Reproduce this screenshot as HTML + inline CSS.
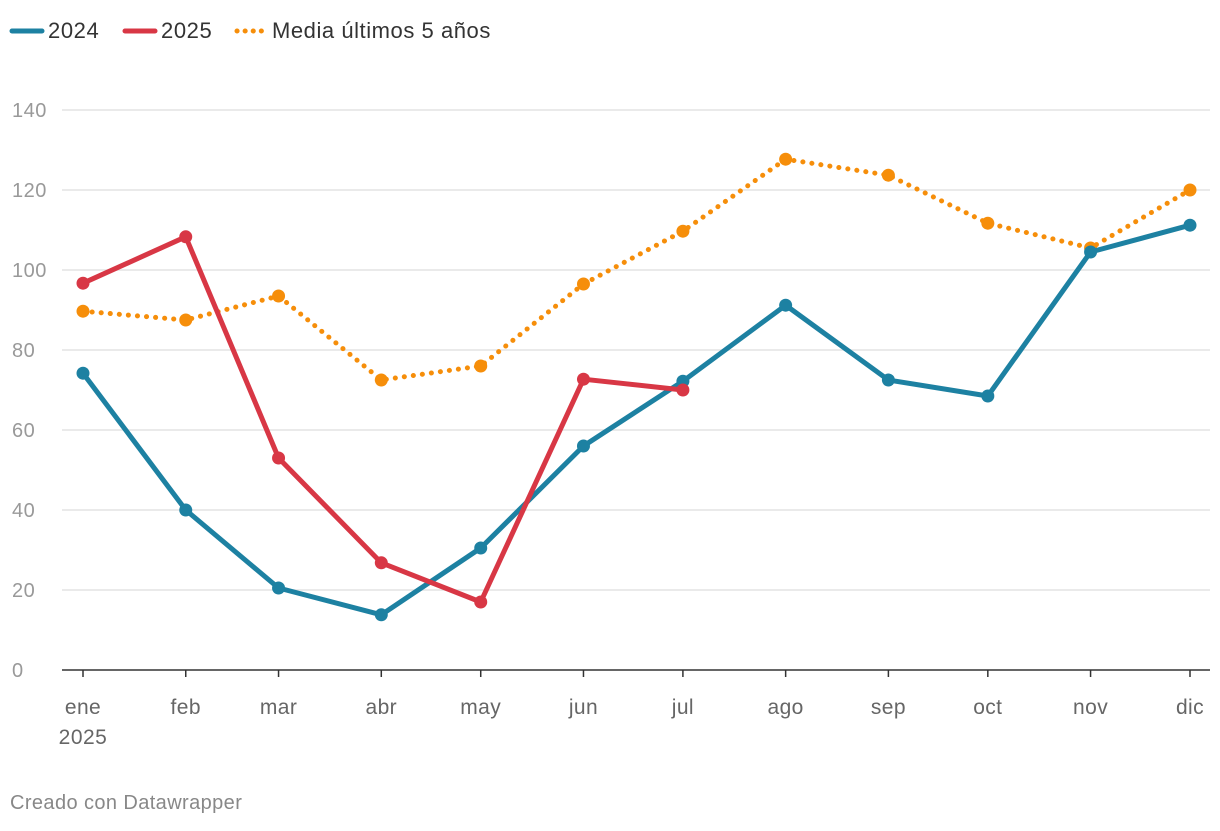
<!DOCTYPE html>
<html><head><meta charset="utf-8"><style>
body{margin:0;background:#fff;font-family:"Liberation Sans",sans-serif;}
svg text{font-family:"Liberation Sans",sans-serif;}
</style></head><body>
<svg id="chart" width="1220" height="826" xmlns="http://www.w3.org/2000/svg">
<g>
<g><line x1="12" y1="31" x2="42" y2="31" stroke="#1d81a2" stroke-width="5" stroke-linecap="round"/><text x="48" y="38" font-size="22" letter-spacing="0.6" fill="#333">2024</text></g>
<g><line x1="125" y1="31" x2="155" y2="31" stroke="#d83745" stroke-width="5" stroke-linecap="round"/><text x="161" y="38" font-size="22" letter-spacing="0.6" fill="#333">2025</text></g>
<g><line x1="237" y1="31" x2="263" y2="31" stroke="#f68e0a" stroke-width="5" stroke-linecap="round" stroke-dasharray="0.1 8"/><text x="272" y="38" font-size="22" letter-spacing="0.55" fill="#333">Media últimos 5 años</text></g>
</g>
<g id="grid"></g><g id="series"></g>
<text x="10" y="809" font-size="20" letter-spacing="0.4" fill="#888">Creado con Datawrapper</text>
</svg>
<script>
const months=["ene","feb","mar","abr","may","jun","jul","ago","sep","oct","nov","dic"];
const dayOfYear=[0,31,59,90,120,151,181,212,243,273,304,334];
const yTicks=[0,20,40,60,80,100,120,140];
const s2024=[74.2,40,20.5,13.8,30.5,56,72.2,91.2,72.5,68.5,104.5,111.2];
const s2025=[96.7,108.3,53,26.8,17,72.7,70];
const sMedia=[89.7,87.5,93.5,72.5,76,96.5,109.7,127.7,123.7,111.7,105.5,120];
const NS="http://www.w3.org/2000/svg";
const x=d=>83+d*(1107/334), y=v=>670-v*4;
function mk(t,a,p){const e=document.createElementNS(NS,t);for(const k in a)e.setAttribute(k,a[k]);p.appendChild(e);return e;}
const g=document.getElementById('grid'), s=document.getElementById('series');
yTicks.forEach(v=>{
 if(v>0){const l=mk('line',{x1:62,x2:1210,y1:y(v),y2:y(v),stroke:'#e3e3e3','stroke-width':1.5},g);
 
 }
 const t=mk('text',{x:12,y:y(v)+7,'font-size':20,'letter-spacing':0.5,fill:'#999'},g);t.textContent=v;
 
 
});
const b=mk('line',{x1:62,x2:1210,y1:670,y2:670,stroke:'#333','stroke-width':1.5},g);


months.forEach((m,i)=>{
 mk('line',{x1:x(dayOfYear[i]),x2:x(dayOfYear[i]),y1:670,y2:677,stroke:'#333','stroke-width':1.5},g);
 const t=mk('text',{x:x(dayOfYear[i]),y:714,'font-size':21,'letter-spacing':0.4,fill:'#666','text-anchor':'middle'},g);t.textContent=m;
 
 
});
const yr=mk('text',{x:83,y:744,'font-size':21,'letter-spacing':0.5,fill:'#666','text-anchor':'middle'},g);yr.textContent='2025';


function series(vals,col,name,dash){
 const pts=vals.map((v,i)=>x(dayOfYear[i])+','+y(v)).join(' ');
 const a={points:pts,fill:'none',stroke:col,'stroke-width':dash?5:5,'stroke-linejoin':'round','stroke-linecap':'round'};
 if(dash)a['stroke-dasharray']='0.1 9';
 const p=mk('polyline',a,s);
 
 
 vals.forEach((v,i)=>{const c=mk('circle',{cx:x(dayOfYear[i]),cy:y(v),r:6.5,fill:col},s);
 
 });
}
series(sMedia,'#f68e0a','media',true);
series(s2024,'#1d81a2','2024',false);
series(s2025,'#d83745','2025',false);
</script>
</body></html>
